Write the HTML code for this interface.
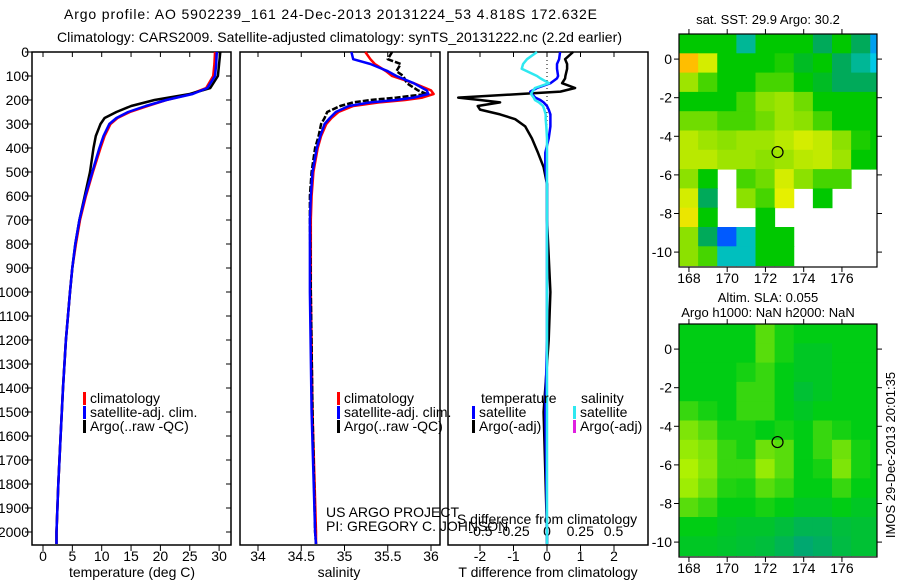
<!DOCTYPE html>
<html><head><meta charset="utf-8"><style>
html,body{margin:0;padding:0;background:#fff;}
svg{display:block;font-family:"Liberation Sans",sans-serif;}
</style></head><body>
<svg id="fig" width="900" height="580" viewBox="0 0 900 580">
<text x="64" y="19" font-size="14" textLength="533">Argo profile: AO 5902239_161 24-Dec-2013 20131224_53 4.818S 172.632E</text>
<text x="57" y="42" font-size="14" textLength="565">Climatology: CARS2009. Satellite-adjusted climatology: synTS_20131222.nc (2.2d earlier)</text>
<g id="layer"></g>
</svg>
<script>
// ---------- profile data ----------
const depthT = [0,50,100,150,175,200,225,250,275,300,350,400,500,600,700,800,900,1000,1200,1400,1600,1800,2000,2050];
const tempArgo = [30.2,30.0,29.8,28.5,25,19,15,12.5,10.5,9.8,9.0,8.6,8.0,7.1,6.2,5.5,5.0,4.6,3.9,3.4,3.0,2.6,2.3,2.3];
const tempSat  = [29.6,29.5,29.3,28.0,25.5,21,17.5,14.5,12.5,11.3,10.3,9.6,8.4,7.2,6.2,5.5,5.0,4.6,3.9,3.4,3.0,2.6,2.3,2.3];
const tempClim = [29.3,29.2,29.0,27.8,25.2,21,17.8,14.8,12.7,11.5,10.5,9.8,8.5,7.3,6.3,5.6,5.0,4.6,3.9,3.4,3.0,2.6,2.3,2.3];

const depthS = [0,30,50,80,100,130,160,175,190,200,210,225,250,275,300,350,400,500,600,700,1000,1500,2000,2050];
const salSat  = [35.08,35.1,35.3,35.5,35.6,35.8,35.95,35.97,35.8,35.6,35.3,35.05,34.9,34.83,34.77,34.72,34.68,34.63,34.61,34.6,34.6,34.62,34.66,34.67];
const salClim = [35.24,35.3,35.35,35.48,35.55,35.8,36.0,36.03,35.9,35.7,35.4,35.1,34.93,34.85,34.79,34.73,34.69,34.64,34.62,34.61,34.61,34.63,34.67,34.67];
const salArgo = [35.55,35.5,35.65,35.6,35.68,35.72,35.85,35.95,35.6,35.3,35.1,34.95,34.8,34.77,34.73,34.7,34.66,34.62,34.6,34.6,34.61,34.63,34.66,34.67];

const depthD = [0,30,50,70,100,110,130,150,165,175,190,200,210,225,240,260,280,310,360,420,480,550,700,1000,1200,1500,2000,2050];
const dTsat  = [0.39,0.36,0.3,0.3,0.33,0.3,0.1,-0.3,-0.5,-0.45,-0.35,-0.2,-0.1,0,0.05,0.1,0.1,0.1,0.05,-0.05,-0.05,0,0,0,0,-0.05,0,0];
const dSsat  = [-0.075,-0.15,-0.18,-0.19,-0.075,-0.05,0.015,-0.09,-0.11,-0.12,-0.1,-0.09,-0.06,-0.03,-0.02,-0.01,-0.01,-0.005,0,0,0,0,0,0,0,0,0,0];
const dTargo = [0.78,0.54,0.6,0.6,0.55,0.54,0.45,0.84,0.4,-0.8,-2.65,-2.0,-1.4,-2.07,-2.0,-1.4,-0.95,-0.65,-0.45,-0.27,-0.1,0,0,0.1,0.05,-0.1,0,0];

const depthTicks = [0,100,200,300,400,500,600,700,800,900,1000,1100,1200,1300,1400,1500,1600,1700,1800,1900,2000];
const tempTicks = [0,5,10,15,20,25,30];
const salTicks = [34,34.5,35,35.5,36];
const dTTicks = [-2,-1,0,1,2];
const dSTicks = [-0.5,-0.25,0,0.25,0.5];
const dSTickLabels = ["-0.5","-0.25","0","0.25","0.5"];

// ---------- map data (1-degree cells, rows from lat 1.3 southward, cols from lon 167.5 eastward) ----------
const sstGrid = [
 [0.5,0.5,0.5,0.42,0.5,0.5,0.5,0.45,0.5,0.45,0.35],
 [0.8,0.68,0.5,0.5,0.5,0.52,0.48,0.5,0.45,0.42,0.38],
 [0.62,0.55,0.5,0.5,0.55,0.55,0.5,0.48,0.45,0.45,0.45],
 [0.5,0.5,0.5,0.55,0.6,0.62,0.58,0.5,0.5,0.5,0.5],
 [0.58,0.58,0.55,0.55,0.58,0.62,0.6,0.55,0.5,0.5,0.5],
 [0.65,0.62,0.6,0.62,0.62,0.65,0.68,0.66,0.6,0.52,0.5],
 [0.65,0.65,0.62,0.62,0.6,0.62,0.65,0.66,0.62,0.5,0.5],
 [0.6,0.5,null,0.55,0.58,0.68,0.6,0.55,0.55,null,null],
 [0.68,0.45,null,0.6,0.55,0.7,null,0.5,null,null,null],
 [0.72,0.5,null,null,0.5,null,null,null,null,null,null],
 [0.6,0.45,0.3,0.4,0.5,0.5,null,null,null,null,null],
 [0.6,0.55,0.4,0.4,0.5,0.5,null,null,null,null,null]
];
const slaGrid = [
 [0.5,0.5,0.5,0.5,0.58,0.52,0.5,0.5,0.5,0.5,0.5],
 [0.5,0.5,0.5,0.5,0.58,0.52,0.48,0.48,0.5,0.5,0.5],
 [0.5,0.5,0.5,0.52,0.55,0.5,0.48,0.48,0.5,0.5,0.5],
 [0.5,0.5,0.5,0.55,0.55,0.5,0.46,0.48,0.5,0.5,0.5],
 [0.55,0.52,0.5,0.55,0.55,0.5,0.48,0.5,0.5,0.5,0.5],
 [0.62,0.58,0.52,0.52,0.5,0.52,0.5,0.55,0.52,0.5,0.5],
 [0.65,0.62,0.55,0.52,0.6,0.58,0.5,0.55,0.6,0.52,0.5],
 [0.68,0.63,0.55,0.55,0.65,0.58,0.5,0.52,0.62,0.52,0.5],
 [0.66,0.6,0.53,0.52,0.58,0.55,0.5,0.5,0.55,0.5,0.5],
 [0.58,0.55,0.5,0.5,0.52,0.5,0.48,0.48,0.5,0.48,0.48],
 [0.5,0.5,0.48,0.47,0.47,0.45,0.42,0.42,0.45,0.46,0.46],
 [0.48,0.48,0.47,0.46,0.45,0.42,0.38,0.4,0.44,0.46,0.46]
];
const latTicks = [0,-2,-4,-6,-8,-10];
const lonTicks = [168,170,172,174,176];
const argoLon = 172.632, argoLat = -4.818;

const NS = "http://www.w3.org/2000/svg";
const layer = document.getElementById("layer");
function mk(tag, attrs, parent){
  const e = document.createElementNS(NS, tag);
  for (const k in attrs) e.setAttribute(k, attrs[k]);
  (parent||layer).appendChild(e);
  return e;
}
function txt(s, x, y, anchor, size, parent){
  const t = mk("text", {x:x, y:y, "text-anchor":anchor||"middle", "font-size":size||14}, parent);
  t.textContent = s; return t;
}

// scales
const yD = d => 52 + d*0.24;
const xT = t => 43 + t*5.87;
const xS = s => 258 + (s-34)*86.5;
const xdT = v => 547 + v*33.5;
const xdS = v => 547 + v*133;

const panels = [[32,231],[240,440],[448,648]];
const PT = 52, PB = 545;

// frames
panels.forEach((p,i)=>{
  const r = mk("rect",{x:p[0],y:PT,width:p[1]-p[0],height:PB-PT,fill:"none",stroke:"#000","stroke-width":1.5});
  
  
});

// depth axis
depthTicks.forEach(d=>{
  const y = yD(d);
  mk("line",{x1:25,x2:32,y1:y,y2:y,stroke:"#000"});
  mk("line",{x1:226,x2:231,y1:y,y2:y,stroke:"#000"});
  const t = txt(String(d), 29, y+5, "end", 14);
  
  
});

function xAxis(ticks, labels, fx, yLab, outward){
  ticks.forEach((v,i)=>{
    const x = fx(v);
    mk("line",{x1:x,x2:x,y1:PT,y2:PT+5,stroke:"#000"});
    if (outward) mk("line",{x1:x,x2:x,y1:PB,y2:PB+6,stroke:"#000"});
    const t = txt(labels[i], x, yLab, "middle", 14);
    
    
  });
}
xAxis(tempTicks, tempTicks.map(String), xT, 561, true);
xAxis(salTicks, salTicks.map(String), xS, 561, true);
xAxis(dTTicks, dTTicks.map(String), xdT, 561, true);
dSTicks.forEach((v,i)=>{
  const t = txt(dSTickLabels[i], xdS(v), 536, "middle", 14);
  
  
});

let t;
t = txt("temperature (deg C)", 132, 577, "middle", 14);
 
t = txt("salinity", 339, 577, "middle", 14);
 
t = txt("T difference from climatology", 548, 577, "middle", 14);
 
t = txt("S difference from climatology", 547, 524, "middle", 14);
 
t = txt("US ARGO PROJECT", 326, 517, "start", 14);
 
t = txt("PI: GREGORY C. JOHNSON", 326, 531, "start", 14);
 

// zero line in diff panel
const z = mk("line",{x1:xdT(0),x2:xdT(0),y1:PT,y2:PB,stroke:"#000","stroke-dasharray":"1,3"});
 

function series(xs, ds, fx, color, name, dash){
  const pts = xs.map((v,i)=>fx(v).toFixed(1)+","+yD(ds[i]).toFixed(1)).join(" ");
  const a = {points:pts,fill:"none",stroke:color,"stroke-width":2.5,"stroke-linejoin":"round"};
  if (dash) a["stroke-dasharray"] = dash;
  const p = mk("polyline", a);
  
  
}
series(tempClim, depthT, xT, "#f00", "temp-climatology-line");
series(tempArgo, depthT, xT, "#000", "temp-argo-line");
series(tempSat, depthT, xT, "#00f", "temp-satellite-line");
series(salClim, depthS, xS, "#f00", "sal-climatology-line");
series(salArgo, depthS, xS, "#000", "sal-argo-line", "6,2");
series(salSat, depthS, xS, "#00f", "sal-satellite-line");
series(dTargo, depthD, xdT, "#000", "tdiff-argo-line");
series(dTsat, depthD, xdT, "#00f", "tdiff-satellite-line");
series(dSsat, depthD, xdS, "#2ee8f0", "sdiff-satellite-line");

// legends
function legend(x, y, color, label, name){
  const r = mk("rect",{x:x,y:y-11,width:3,height:13,fill:color});
   
  const tt = txt(label, x+7, y, "start", 14);
   
}
legend(83,403,"#f00","climatology","legend-climatology");
legend(83,417,"#00f","satellite-adj. clim.","legend-satellite-adj");
legend(83,431,"#000","Argo(..raw -QC)","legend-argo");
legend(337,403,"#f00","climatology","legend-sal-climatology");
legend(337,417,"#00f","satellite-adj. clim.","legend-sal-satellite-adj");
legend(337,431,"#000","Argo(..raw -QC)","legend-sal-argo");
t = txt("temperature", 481, 403, "start", 14);
 
t = txt("salinity", 581, 403, "start", 14);
 
legend(472,417,"#00f","satellite","legend-tdiff-satellite");
legend(472,431,"#000","Argo(-adj)","legend-tdiff-argo");
legend(573,417,"#2ee8f0","satellite","legend-sdiff-satellite");
legend(573,431,"#e020e0","Argo(-adj)","legend-sdiff-argo");

// ---------- maps ----------
function lerpColor(stops, v){
  if (v <= stops[0][0]) return stops[0][1];
  for (let i=1;i<stops.length;i++){
    if (v <= stops[i][0]){
      const a = stops[i-1], b = stops[i], f = (v-a[0])/(b[0]-a[0]);
      const c = a[1].map((x,k)=>Math.round(x + (b[1][k]-x)*f));
      return c;
    }
  }
  return stops[stops.length-1][1];
}
const sstStops = [[0.2,[0,0,140]],[0.3,[0,90,255]],[0.38,[0,200,230]],[0.45,[0,170,90]],[0.5,[0,200,0]],[0.6,[140,225,0]],[0.7,[230,240,0]],[0.8,[255,190,0]],[0.9,[255,140,0]]];
const slaStops = [[0.38,[0,168,112]],[0.45,[0,190,60]],[0.5,[0,205,20]],[0.6,[110,225,10]],[0.7,[190,245,0]]];

function drawMap(x0, y0, grid, stops, name){
  const W = 198, H = 233;
  const lon0 = 167.48, lat0 = 1.3, pxLon = 19.125, pxLat = 19.3;
  const g = mk("g",{});
   
  const cid = name+"-clip";
  const cp = mk("clipPath",{id:cid}, g);
  mk("rect",{x:x0,y:y0,width:W,height:H}, cp);
  const cells = mk("g",{"clip-path":"url(#"+cid+")"}, g);
  grid.forEach((row, r)=>{
    row.forEach((v, c)=>{
      if (v === null) return;
      const col = lerpColor(stops, v);
      const cell = mk("rect",{x:x0 + c*pxLon, y:y0 + r*pxLat, width:pxLon+0.5, height:pxLat+0.5, fill:"rgb("+col.join(",")+")"}, cells);
      
      
    });
  });
  const fx = lon => x0 + (lon-lon0)*pxLon;
  const fy = lat => y0 + (lat0-lat)*pxLat;
  mk("rect",{x:x0,y:y0,width:W,height:H,fill:"none",stroke:"#000","stroke-width":1.2}, g);
  latTicks.forEach(l=>{
    const y = fy(l);
    mk("line",{x1:x0-5,x2:x0,y1:y,y2:y,stroke:"#000"}, g);
    mk("line",{x1:x0+W,x2:x0+W+5,y1:y,y2:y,stroke:"#000"}, g);
    const tt = txt(String(l), x0-7, y+5, "end", 14, g);
     
  });
  lonTicks.forEach(l=>{
    const x = fx(l);
    mk("line",{x1:x,x2:x,y1:y0-5,y2:y0,stroke:"#000"}, g);
    mk("line",{x1:x,x2:x,y1:y0+H,y2:y0+H+5,stroke:"#000"}, g);
    const tt = txt(String(l), x, y0+H+16, "middle", 14, g);
     
  });
  const m = mk("circle",{cx:fx(argoLon),cy:fy(argoLat),r:5.5,fill:"none",stroke:"#000","stroke-width":1.2}, g);
   
}
drawMap(679, 34, sstGrid, sstStops, "sst-map");
drawMap(679, 324, slaGrid, slaStops, "sla-map");

t = txt("sat. SST: 29.9 Argo: 30.2", 768, 24, "middle", 13);
 
t = txt("Altim. SLA: 0.055", 768, 302, "middle", 13);
 
t = txt("Argo h1000: NaN h2000: NaN", 768, 317, "middle", 13);
 
t = txt("IMOS 29-Dec-2013 20:01:35", 0, 0, "middle", 13);
t.setAttribute('transform', 'translate(895,455) rotate(-90)');
 
</script>
</body></html>
